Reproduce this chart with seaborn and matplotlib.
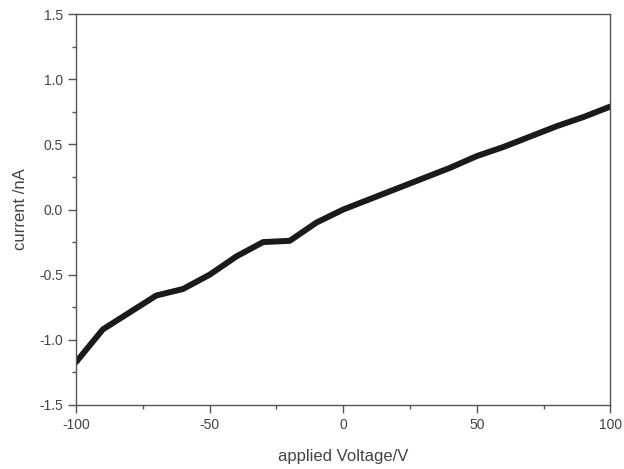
import matplotlib
matplotlib.use("Agg")
import matplotlib.pyplot as plt
import seaborn as sns
import pandas as pd
from matplotlib.ticker import MultipleLocator

voltage = [-100, -90, -80, -70, -60, -50, -40, -30, -20, -10, 0, 10, 20, 30, 40, 50, 60, 70, 80, 90, 100]
current = [-1.17, -0.92, -0.79, -0.66, -0.61, -0.50, -0.36, -0.25, -0.24, -0.10, 0.00, 0.08, 0.16, 0.24, 0.32, 0.41, 0.48, 0.56, 0.64, 0.71, 0.79]

df = pd.DataFrame({"voltage": voltage, "current": current})

sns.set_style("ticks")
plt.rcParams['font.family'] = ['Liberation Sans', 'DejaVu Sans']
plt.rcParams['axes.unicode_minus'] = False

fig = plt.figure(figsize=(6.24, 4.69), dpi=100)
ax = fig.add_axes([0.122, 0.1365, 0.856, 0.8335])

sns.lineplot(data=df, x="voltage", y="current", ax=ax, color="#1a1a1a", linewidth=4.3)

ax.set_xlim(-100, 100)
ax.set_ylim(-1.5, 1.5)
ax.xaxis.set_major_locator(MultipleLocator(50))
ax.xaxis.set_minor_locator(MultipleLocator(25))
ax.yaxis.set_major_locator(MultipleLocator(0.5))
ax.yaxis.set_minor_locator(MultipleLocator(0.25))
ax.yaxis.set_major_formatter(matplotlib.ticker.FormatStrFormatter('%.1f'))

for s in ax.spines.values():
    s.set_visible(True)
    s.set_color("#555555")
    s.set_linewidth(1.0)

ax.tick_params(which='major', length=6, width=1, color="#555555", labelsize=10, labelcolor="#444444", direction='out')
ax.tick_params(which='minor', length=3, width=1, color="#555555", direction='out')

ax.set_xlabel("applied Voltage/V", fontsize=12, color="#444444", labelpad=12)
ax.set_ylabel("current /nA", fontsize=12, color="#444444", labelpad=8)

fig.savefig("out.png", dpi=100)
